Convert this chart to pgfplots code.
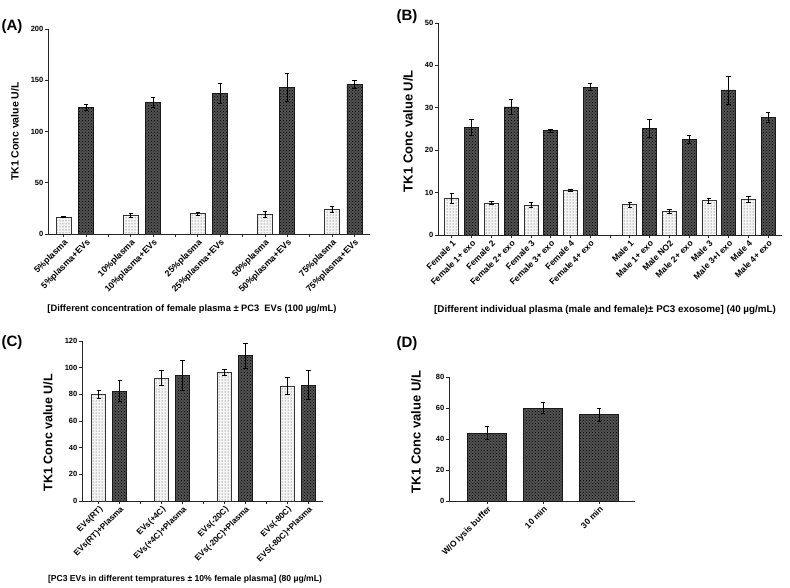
\documentclass[border=0pt]{standalone}
\usepackage{pgfplots}
\pgfplotsset{compat=1.18}
\usetikzlibrary{patterns}
\usepackage{fontspec}
\setmainfont{Liberation Sans}

\pgfplotsset{
 prism/.style={
  scale only axis,
  axis x line*=bottom, axis y line*=left,
  axis line style={line width=0.9pt, black!85},
  ymin=0,
  tick align=outside,
  major tick length=3pt,
  tick style={line width=0.8pt, black!85},
  yticklabel style={font=\fontsize{7.5}{8}\selectfont\bfseries, inner sep=1.5pt},
  xticklabel style={rotate=45, anchor=north east, inner sep=1pt},
  /pgf/number format/assume math mode=true,
  every axis y label/.style={rotate=90, anchor=center},
 },
 errs/.style={
  error bars/y dir=both, error bars/y explicit,
  error bars/error bar style={line width=0.8pt, black},
  error bars/error mark options={rotate=90, mark size=2.2pt, line width=0.8pt, black},
 },
 lightbar/.style={ybar, bar width=#1, draw=black!80, line width=0.7pt, fill=black!4,
  postaction={pattern=dots, pattern color=black!75}, errs},
 darkbar/.style={ybar, bar width=#1, draw=black!90, line width=0.7pt, fill=black!68,
  postaction={pattern=crosshatch dots, pattern color=black}, errs},
}

\begin{document}
\begin{tikzpicture}
\path[use as bounding box] (0pt,0pt) rectangle (790pt,587pt);

% ---------------- Panel A ----------------
\begin{axis}[prism, at={(48pt,353pt)}, anchor=south west,
  width=322pt, height=205pt,
  xmin=-0.7, xmax=13.7, ymax=200,
  ytick={0,50,100,150,200},
  xtick={0,...,13},
  xticklabel style={font=\fontsize{8.8}{10}\selectfont\bfseries},
  xticklabels={5\%plasma,5\%plasma+EVs,{},10\%plasma,10\%plasma+EVs,{},25\%plasma,25\%plasma+EVs,{},50\%plasma,50\%plasma+EVs,{},75\%plasma,75\%plasma+EVs},
  ylabel={TK1 Conc value U/L},
  ylabel style={font=\fontsize{10.5}{12}\selectfont\bfseries, at={(axis description cs:-0.1025,0.5)}},
]
\addplot[lightbar=15pt] table[x=x,y=y,y error=e] {
x y e
0 16.6 0.8
3 18.2 2.0
6 19.9 1.3
9 18.9 3.0
12 24.1 3.0
};
\addplot[darkbar=15pt] table[x=x,y=y,y error=e] {
x y e
1 123.8 3.0
4 128.3 4.6
7 137.5 9.7
10 143.0 13.3
13 146.0 4.0
};
\end{axis}

% ---------------- Panel B ----------------
\begin{axis}[prism, at={(438pt,352pt)}, anchor=south west,
  width=344pt, height=212pt,
  xmin=-0.7, xmax=16.7, ymax=50,
  ytick={0,10,20,30,40,50},
  xtick={0,...,16},
  xticklabel style={font=\fontsize{8.6}{10}\selectfont\bfseries},
  xticklabels={Female 1,Female 1+ exo,Female 2,Female 2+ exo,Female 3,Female 3+ exo,Female 4,Female 4+ exo,{},Male 1,Male 1+ exo,Male NO2,Male 2+ exo,Male 3,Male 3+I exo,Male 4,Male 4+ exo},
  ylabel={TK1 Conc value U/L},
  ylabel style={font=\fontsize{13}{14}\selectfont\bfseries, at={(axis description cs:-0.087,0.49)}},
]
\addplot[lightbar=14pt] table[x=x,y=y,y error=e] {
x y e
0 8.6 1.1
2 7.5 0.4
4 7.1 0.6
6 10.5 0.15
9 7.2 0.6
11 5.6 0.4
13 8.1 0.6
15 8.5 0.7
};
\addplot[darkbar=14pt] table[x=x,y=y,y error=e] {
x y e
1 25.4 1.9
3 30.2 1.8
5 24.6 0.3
7 34.9 0.9
10 25.2 2.1
12 22.6 1.0
14 34.2 3.3
16 27.7 1.2
};
\end{axis}

% ---------------- Panel C ----------------
\begin{axis}[prism, at={(82pt,86pt)}, anchor=south west,
  width=241pt, height=160pt,
  xmin=-0.8, xmax=10.7, ymax=120,
  ytick={0,20,40,60,80,100,120},
  xtick={0,...,10},
  xticklabel style={font=\fontsize{8.3}{9}\selectfont\bfseries},
  xticklabels={EVs(RT),EVs(RT)+Plasma,{},EVs(+4C),EVs(+4C)+Plasma,{},EVs(-20C),EVs(-20C)+Plasma,{},EVs(-80C),EVS(-80C)+Plasma},
  ylabel={TK1 Conc value U/L},
  ylabel style={font=\fontsize{12.5}{14}\selectfont\bfseries, at={(axis description cs:-0.141,0.427)}},
]
\addplot[lightbar=14pt] table[x=x,y=y,y error=e] {
x y e
0 80.0 3.0
3 92.3 5.8
6 96.5 2.2
9 86.3 6.5
};
\addplot[darkbar=14pt] table[x=x,y=y,y error=e] {
x y e
1 82.5 8.0
4 94.3 11.0
7 109.0 9.3
10 87.0 11.0
};
\end{axis}

% ---------------- Panel D ----------------
\begin{axis}[prism, at={(449pt,86pt)}, anchor=south west,
  width=186pt, height=124pt,
  xmin=-0.68, xmax=2.64, ymax=80,
  ytick={0,20,40,60,80},
  xtick={0,1,2},
  xticklabel style={font=\fontsize{8.5}{10}\selectfont\bfseries},
  xticklabels={W/O lysis buffer,10 min,30 min},
  ylabel={TK1 Conc value U/L},
  ylabel style={font=\fontsize{13}{14}\selectfont\bfseries, at={(axis description cs:-0.177,0.556)}},
]
\addplot[darkbar=39pt] table[x=x,y=y,y error=e] {
x y e
0 43.8 4.1
1 59.9 3.4
2 55.6 4.3
};
\end{axis}

% panel letters
\node[font=\fontsize{15}{17}\selectfont\bfseries] at (12pt,560pt) {(A)};
\node[font=\fontsize{15}{17}\selectfont\bfseries] at (407pt,570pt) {(B)};
\node[font=\fontsize{15}{17}\selectfont\bfseries] at (12pt,244pt) {(C)};
\node[font=\fontsize{15}{17}\selectfont\bfseries] at (407pt,243pt) {(D)};

% captions
\node[font=\fontsize{9.3}{10}\selectfont\bfseries] at (192pt,278pt) {[Different concentration of female plasma ± PC3\ \ EVs (100 µg/mL)};
\node[font=\fontsize{9.8}{10}\selectfont\bfseries] at (605pt,277pt) {[Different individual plasma (male and female)± PC3 exosome] (40 µg/mL)};
\node[font=\fontsize{8.6}{10}\selectfont\bfseries] at (185pt,8pt) {[PC3 EVs in different tempratures ± 10\% female plasma] (80 µg/mL)};
\end{tikzpicture}
\end{document}
